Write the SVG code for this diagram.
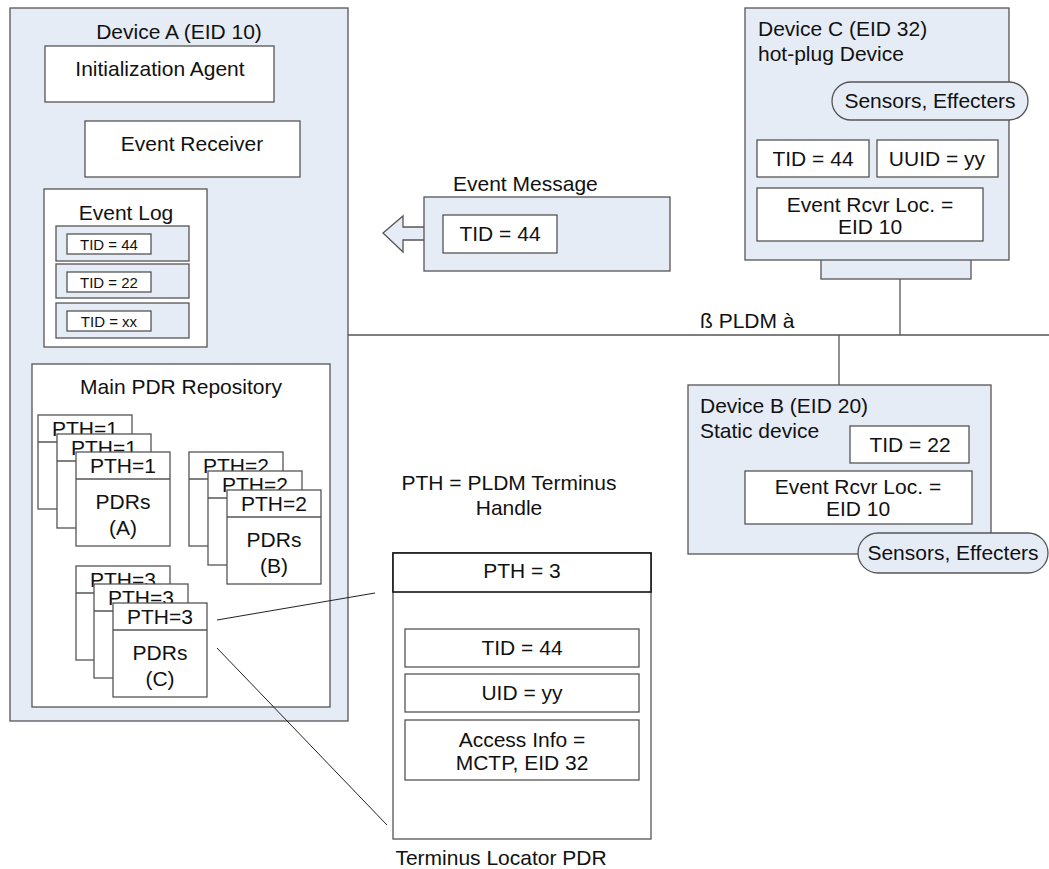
<svg xmlns="http://www.w3.org/2000/svg" width="1049" height="869" viewBox="0 0 1049 869">
<style>
text{font-family:"Liberation Sans",Arial,sans-serif;font-size:21px;fill:#111}
.m{text-anchor:middle}
.s{font-size:15px}
.bl{fill:#e6ecf6;stroke:#555;stroke-width:1.3}
.wh{fill:#fff;stroke:#555;stroke-width:1.3}
.ln{stroke:#222;stroke-width:1;fill:none}
.bus{stroke:#555;stroke-width:1.3;fill:none}
</style>
<defs>
<g id="pdr">
<rect class="wh" x="0" y="0" width="94" height="94"/>
<line class="bus" x1="0" y1="27" x2="94" y2="27"/>
</g>
</defs>
<rect width="1049" height="869" fill="#fff"/>

<g id="bus">
<line class="bus" x1="348" y1="335" x2="1049" y2="335"/>
<line class="bus" x1="839" y1="335" x2="839" y2="385"/>
<line class="bus" x1="900" y1="241" x2="900" y2="335"/>
<text x="700" y="328">ß PLDM à</text>
</g>

<g id="deviceA">
<rect class="bl" x="10" y="8" width="338" height="713"/>
<text class="m" x="179" y="39">Device A (EID 10)</text>
<g id="initAgent"><rect class="wh" x="45" y="46" width="229" height="56"/><text class="m" x="160" y="76">Initialization Agent</text></g>
<g id="eventReceiver"><rect class="wh" x="85" y="121" width="215" height="56"/><text class="m" x="192" y="151">Event Receiver</text></g>
<g id="eventLog">
<rect class="wh" x="44" y="189" width="163" height="158"/>
<text class="m" x="126" y="220">Event Log</text>
<rect class="bl" x="56" y="226" width="133" height="35"/>
<rect class="wh" x="67" y="234" width="84" height="20"/>
<text class="m s" x="109" y="250">TID = 44</text>
<rect class="bl" x="56" y="264" width="133" height="34"/>
<rect class="wh" x="67" y="272" width="84" height="20"/>
<text class="m s" x="109" y="288">TID = 22</text>
<rect class="bl" x="56" y="303" width="133" height="35"/>
<rect class="wh" x="67" y="311" width="84" height="20"/>
<text class="m s" x="109" y="327">TID = xx</text>
</g>
<g id="mainPDR">
<rect class="wh" x="32" y="364" width="298" height="343"/>
<text class="m" x="181" y="394">Main PDR Repository</text>
<g id="stackA">
<use href="#pdr" x="38" y="415"/><text class="m" x="85" y="436">PTH=1</text>
<use href="#pdr" x="57" y="434"/><text class="m" x="104" y="455">PTH=1</text>
<use href="#pdr" x="76" y="452"/><text class="m" x="123" y="473">PTH=1</text>
<text class="m" x="123" y="509">PDRs</text><text class="m" x="123" y="535">(A)</text>
</g>
<g id="stackB">
<use href="#pdr" x="189" y="452"/><text class="m" x="236" y="473">PTH=2</text>
<use href="#pdr" x="208" y="471"/><text class="m" x="255" y="492">PTH=2</text>
<use href="#pdr" x="227" y="490"/><text class="m" x="274" y="511">PTH=2</text>
<text class="m" x="274" y="547">PDRs</text><text class="m" x="274" y="573">(B)</text>
</g>
<g id="stackC">
<use href="#pdr" x="76" y="566"/><text class="m" x="123" y="587">PTH=3</text>
<use href="#pdr" x="94" y="584"/><text class="m" x="141" y="605">PTH=3</text>
<use href="#pdr" x="113" y="603"/><text class="m" x="160" y="624">PTH=3</text>
<text class="m" x="160" y="660">PDRs</text><text class="m" x="160" y="686">(C)</text>
</g>
</g>
</g>

<g id="eventMessage">
<text x="453" y="191">Event Message</text>
<path class="bl" d="M424,227 H403 V216 L383,233 L403,252 V240 H424"/>
<rect class="bl" x="424" y="197" width="246" height="74"/>
<rect class="wh" x="443" y="215" width="114" height="38"/>
<text class="m" x="500" y="241">TID = 44</text>
</g>

<g id="deviceC">
<rect class="bl" x="821" y="258" width="150" height="21"/>
<rect class="bl" x="745" y="8" width="264" height="252"/>
<text x="758" y="36">Device C (EID 32)</text>
<text x="758" y="61">hot-plug Device</text>
<rect class="bl" x="832" y="82" width="196" height="38" rx="19"/>
<text class="m" x="930" y="108">Sensors, Effecters</text>
<rect class="wh" x="757" y="140" width="112" height="37"/>
<text class="m" x="813" y="166">TID = 44</text>
<rect class="wh" x="877" y="140" width="121" height="37"/>
<text class="m" x="937" y="166">UUID = yy</text>
<rect class="wh" x="757" y="188" width="226" height="53"/>
<text class="m" x="870" y="212">Event Rcvr Loc. =</text>
<text class="m" x="870" y="234">EID 10</text>
</g>

<g id="deviceB">
<rect class="bl" x="688" y="385" width="303" height="169"/>
<text x="700" y="413">Device B (EID 20)</text>
<text x="700" y="438">Static device</text>
<rect class="wh" x="850" y="426" width="119" height="37"/>
<text class="m" x="910" y="452">TID = 22</text>
<rect class="wh" x="745" y="471" width="227" height="53"/>
<text class="m" x="858" y="494">Event Rcvr Loc. =</text>
<text class="m" x="858" y="516">EID 10</text>
<rect class="bl" x="858" y="533" width="190" height="40" rx="20"/>
<text class="m" x="953" y="560">Sensors, Effecters</text>
</g>

<g id="legend">
<text class="m" x="509" y="490">PTH = PLDM Terminus</text>
<text class="m" x="509" y="515">Handle</text>
</g>

<g id="connectors">
<line class="ln" x1="217" y1="620" x2="375" y2="593"/>
<line class="ln" x1="217" y1="648" x2="387" y2="825"/>
</g>

<g id="terminusLocator">
<rect class="wh" x="393" y="553" width="258" height="286"/>
<rect x="393" y="553" width="258" height="39" fill="#fff" stroke="#111" stroke-width="1.6"/>
<text class="m" x="522" y="578">PTH = 3</text>
<rect class="wh" x="405" y="629" width="234" height="38"/>
<text class="m" x="522" y="655">TID = 44</text>
<rect class="wh" x="405" y="674" width="234" height="38"/>
<text class="m" x="522" y="700">UID = yy</text>
<rect class="wh" x="405" y="720" width="234" height="60"/>
<text class="m" x="522" y="747">Access Info =</text>
<text class="m" x="522" y="770">MCTP, EID 32</text>
<text class="m" x="501" y="865">Terminus Locator PDR</text>
</g>
</svg>
